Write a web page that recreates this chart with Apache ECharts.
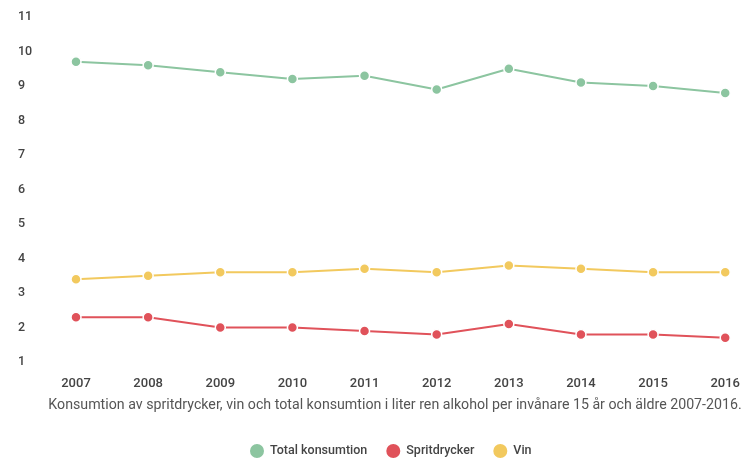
<!DOCTYPE html>
<html><head><meta charset="utf-8">
<script src="https://cdn.jsdelivr.net/npm/echarts@6/dist/echarts.min.js"></script>
<style>html,body{margin:0;padding:0;background:#fff}#c{width:743px;height:458px}</style>
</head><body><div id="c"></div>
<script>
const years = ['2007','2008','2009','2010','2011','2012','2013','2014','2015','2016'];
const total = [9.7, 9.6, 9.4, 9.2, 9.3, 8.9, 9.5, 9.1, 9.0, 8.8];
const sprit = [2.3, 2.3, 2.0, 2.0, 1.9, 1.8, 2.1, 1.8, 1.8, 1.7];
const vin = [3.4, 3.5, 3.6, 3.6, 3.7, 3.6, 3.8, 3.7, 3.6, 3.6];
const caption = 'Konsumtion av spritdrycker, vin och total konsumtion i liter ren alkohol per invånare 15 år och äldre 2007-2016.';
const font = 'Roboto, "Noto Sans", sans-serif';
const colors = ['#8cc5a0', '#e0525a', '#f2c95e'];
const chart = echarts.init(document.getElementById('c'));
function s(name, data, color) {
  return {name, type:'line', data, color, symbol:'circle', symbolSize:10,
    lineStyle:{width:2, color}, itemStyle:{color, borderColor:'#fff', borderWidth:1.5},
    emphasis:{disabled:true}};
}
chart.setOption({
  animation:false,
  grid:{left:76, right:15, top:17, bottom:96},
  xAxis:{type:'category', data:years, boundaryGap:false,
    axisLine:{show:false}, axisTick:{show:false}, splitLine:{show:false},
    axisLabel:{color:'#444', fontFamily:font, fontSize:13, fontWeight:500, margin:15}},
  yAxis:{type:'value', min:1, max:11, interval:1,
    axisLine:{show:false}, axisTick:{show:false}, splitLine:{show:false},
    axisLabel:{color:'#444', fontFamily:font, fontSize:12.5, fontWeight:500, align:'left', margin:58}},
  legend:{top:437, left:243, itemWidth:16, itemHeight:16, itemGap:17, icon:'circle',
    textStyle:{color:'#444', fontFamily:font, fontSize:12.5, fontWeight:500},
    data:['Total konsumtion','Spritdrycker','Vin']},
  graphic:[{type:'text', x:395, y:405,
    style:{text:caption, fill:'#555', font:'14.2px ' + font, align:'center', verticalAlign:'middle'}}],
  series:[s('Total konsumtion', total, colors[0]), s('Spritdrycker', sprit, colors[1]), s('Vin', vin, colors[2])]
});
</script></body></html>
